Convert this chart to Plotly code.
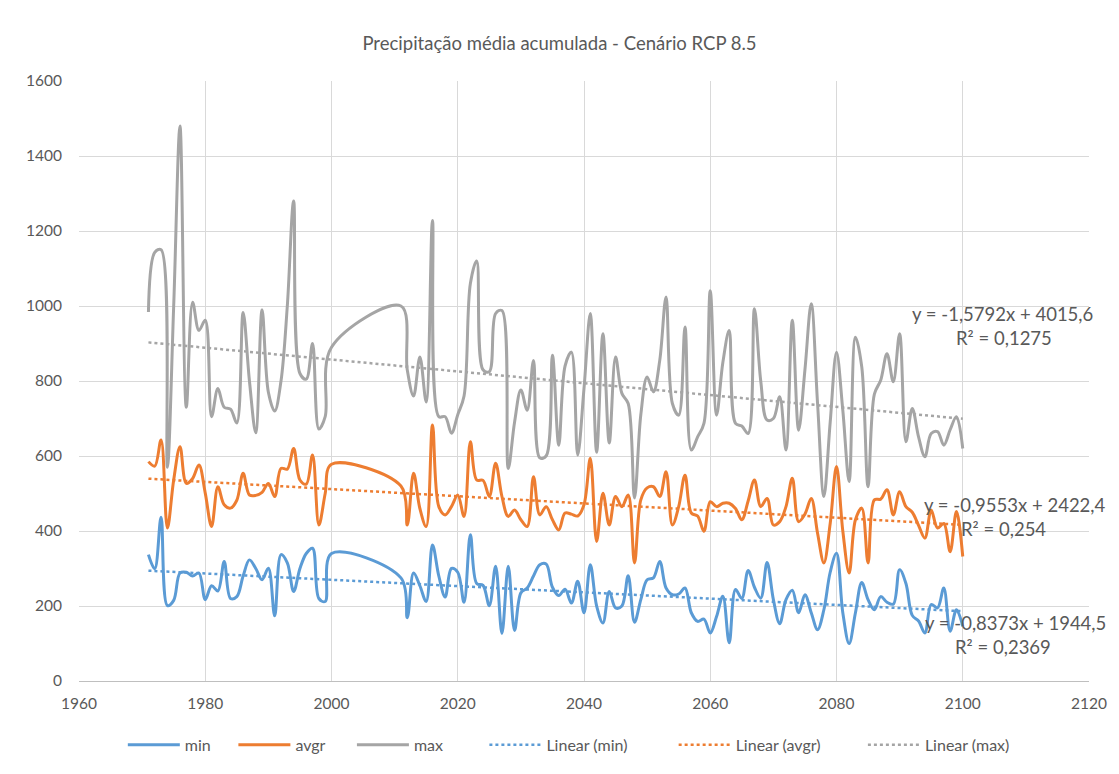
import plotly.graph_objects as go

# Years: historical run 1971-2000 and projection 2011-2100
years = list(range(1971, 2001)) + list(range(2011, 2101))

# Accumulated precipitation (mm) - minimum across members
prec_min = [
    337, 299, 437, 201, 215, 288, 290, 280, 288, 217,
    254, 240, 319, 220, 225, 280, 323, 300, 270, 301,
    174, 337, 315, 239, 300, 340, 354, 220, 212, 340,
    275, 169, 288, 254, 212, 363, 280, 224, 300, 290,
    210, 390, 260, 255, 201, 306, 127, 306, 135, 235,
    248, 280, 310, 312, 250, 228, 245, 208, 266, 182,
    310, 200, 155, 239, 195, 200, 281, 157, 217, 270,
    275, 319, 248, 230, 232, 248, 182, 159, 165, 128,
    172, 226, 102, 244, 220, 295, 250, 221, 316, 217,
    153, 217, 242, 182, 230, 182, 137, 190, 290, 341,
    182, 100, 182, 263, 217, 190, 225, 210, 205, 297,
    260, 175, 160, 128, 204, 195, 248, 133, 190, 146,
]

# Accumulated precipitation (mm) - ensemble average
prec_avgr = [
    585, 573, 643, 408, 536, 625, 527, 540, 576, 501,
    412, 518, 470, 461, 482, 554, 496, 495, 503, 527,
    492, 567, 565, 620, 536, 525, 603, 416, 500, 578,
    520, 416, 554, 460, 412, 683, 465, 443, 465, 496,
    439, 638, 536, 535, 492, 581, 492, 439, 456, 430,
    412, 545, 443, 465, 430, 403, 448, 445, 440, 470,
    594, 372, 501, 416, 492, 465, 496, 315, 483, 515,
    518, 492, 558, 416, 465, 549, 448, 440, 399, 478,
    465, 474, 474, 460, 430, 480, 536, 465, 487, 416,
    425, 465, 541, 425, 445, 487, 394, 315, 420, 572,
    400, 288, 430, 461, 315, 483, 485, 510, 443, 505,
    465, 450, 415, 381, 456, 408, 420, 345, 452, 332,
]

# Accumulated precipitation (mm) - maximum across members
prec_max = [
    984, 1143, 1150, 570, 1000, 1480, 730, 1010, 935, 962,
    705, 780, 730, 725, 688, 983, 800, 662, 990, 770,
    720, 800, 1000, 1280, 820, 805, 900, 672, 705, 890,
    1000, 830, 760, 864, 744, 1228, 705, 705, 661, 710,
    760, 1060, 1120, 830, 825, 980, 988, 567, 690, 776,
    722, 855, 595, 600, 869, 629, 840, 877, 603, 780,
    980, 610, 926, 635, 864, 767, 740, 488, 710, 811,
    771, 855, 1024, 740, 709, 944, 616, 651, 687, 1041,
    709, 850, 935, 687, 680, 660, 993, 800, 696, 700,
    758, 616, 962, 669, 830, 1006, 740, 492, 690, 877,
    722, 532, 917, 838, 518, 765, 802, 873, 798, 926,
    638, 727, 651, 598, 660, 665, 629, 670, 705, 620,
]

# Linear trend coefficients (slope, intercept, R²)
trend_min = (-0.8373, 1944.5, 0.2369)
trend_avgr = (-0.9553, 2422.4, 0.254)
trend_max = (-1.5792, 4015.6, 0.1275)

BLUE = "#5B9BD5"
ORANGE = "#ED7D31"
GREY = "#A5A5A5"
TEXT = "#595959"
FONT = "Lato, 'Open Sans', sans-serif"

W, H = 1119, 774
M_L, M_R, M_T, M_B = 79, 26, 81, 92
PLOT_W = W - M_L - M_R

# Legend entries laid out in one row along the bottom (left edge in px)
legend_left_px = [123, 234, 353, 486, 676, 866]
ITEM_W = 52

fig = go.Figure()

legend_ids = ["legend"] + [f"legend{i}" for i in range(2, 7)]

series = [("min", prec_min, BLUE),
          ("avgr", prec_avgr, ORANGE),
          ("max", prec_max, GREY)]
for k, (name, vals, color) in enumerate(series):
    fig.add_trace(go.Scatter(
        x=years, y=vals, name=name, mode="lines",
        line=dict(color=color, width=3, shape="spline", smoothing=1.0),
        legend=legend_ids[k],
    ))

x_fit = [years[0], years[-1]]
trends = [("Linear (min)", trend_min, BLUE),
          ("Linear (avgr)", trend_avgr, ORANGE),
          ("Linear (max)", trend_max, GREY)]
for k, (name, (a, b, _), color) in enumerate(trends):
    fig.add_trace(go.Scatter(
        x=x_fit, y=[a * x + b for x in x_fit], name=name, mode="lines",
        line=dict(color=color, width=2.5, dash="dot"),
        legend=legend_ids[k + 3],
    ))


def fmt(v, nd):
    return f"{v:.{nd}f}".replace(".", ",")


def eq_text(a, b):
    return f"y = {fmt(a, 4)}x + {fmt(b, 1)}"


labels = [
    (eq_text(*trend_max[:2]), 2106.3, 978),
    (f"R² = {fmt(trend_max[2], 4)}", 2106.5, 914),
    (eq_text(*trend_avgr[:2]), 2108.3, 470),
    (f"R² = {fmt(trend_avgr[2], 3)}", 2106.4, 406),
    (eq_text(*trend_min[:2]), 2108.3, 156),
    (f"R² = {fmt(trend_min[2], 4)}", 2106.4, 92),
]
for txt, xa, ya in labels:
    fig.add_annotation(x=xa, y=ya, text=txt, showarrow=False,
                       xanchor="center", yanchor="middle",
                       font=dict(family=FONT, size=18.5, color=TEXT))

legend_y = -(746 - (H - M_B)) / (H - M_T - M_B)
legend_layouts = {}
for lid, px in zip(legend_ids, legend_left_px):
    legend_layouts[lid] = dict(
        orientation="h", x=(px - M_L) / PLOT_W, xanchor="left",
        y=legend_y, yanchor="middle", itemwidth=ITEM_W,
        bgcolor="rgba(0,0,0,0)",
        font=dict(family=FONT, size=16, color=TEXT),
    )

fig.update_layout(
    width=W, height=H,
    margin=dict(l=M_L, r=M_R, t=M_T, b=M_B),
    paper_bgcolor="white", plot_bgcolor="white",
    title=dict(text="Precipitação média acumulada - Cenário RCP 8.5",
               x=0.5, xanchor="center", y=1 - 44 / H, yanchor="middle",
               font=dict(family=FONT, size=18.5, color=TEXT)),
    font=dict(family=FONT, size=15, color=TEXT),
    showlegend=True,
    hovermode=False,
    **legend_layouts,
)

fig.update_xaxes(range=[1960, 2120], dtick=20, tick0=1960,
                 showgrid=True, gridcolor="#D9D9D9", gridwidth=1,
                 zeroline=False, showline=True, linecolor="#BFBFBF",
                 linewidth=1, ticks="", ticklabelstandoff=8,
                 tickfont=dict(family=FONT, size=15.5, color=TEXT))
fig.update_yaxes(range=[0, 1600], dtick=200, tick0=0,
                 showgrid=True, gridcolor="#D9D9D9", gridwidth=1,
                 zeroline=False, showline=False, ticks="",
                 ticklabelstandoff=16,
                 tickfont=dict(family=FONT, size=15.5, color=TEXT))

fig.write_html("out.html")
